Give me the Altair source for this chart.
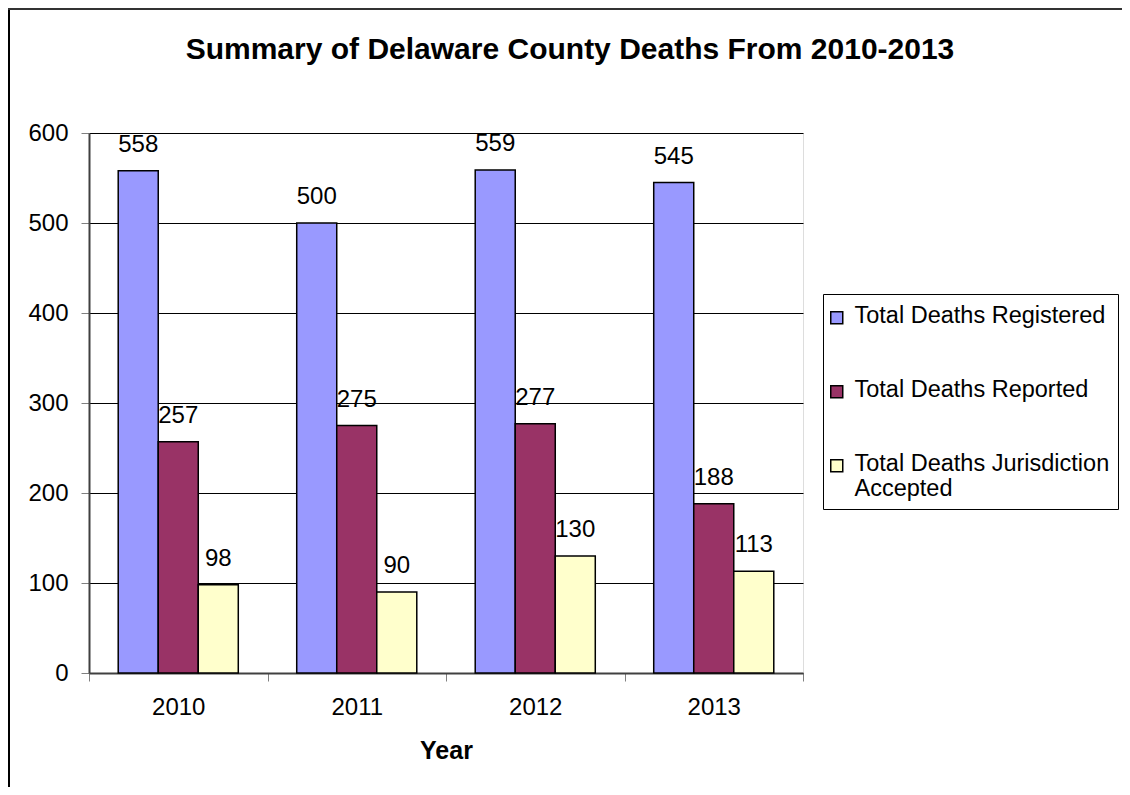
import altair as alt
import pandas as pd

years = ["2010", "2011", "2012", "2013"]
series = ["Total Deaths Registered", "Total Deaths Reported", "Total Deaths Jurisdiction Accepted"]
registered = [558, 500, 559, 545]
reported = [257, 275, 277, 188]
accepted = [98, 90, 130, 113]
colors = ["#9999FF", "#993366", "#FFFFCC"]
y_ticks = [0, 100, 200, 300, 400, 500, 600]

rows = []
for i, yr in enumerate(years):
    for s, vals in zip(series, [registered, reported, accepted]):
        rows.append({"Year": yr, "Series": s, "Deaths": vals[i]})
df = pd.DataFrame(rows)

FONT = "Liberation Sans"
W, H = 714, 540
PAD = {"left": 81, "top": 125, "right": 319, "bottom": 114}

x = alt.X(
    "Year:N", sort=years, title="Year",
    scale=alt.Scale(paddingInner=0, paddingOuter=0),
    axis=alt.Axis(
        labelAngle=0, tickBand="extent", grid=False, tickSize=8, tickColor="#808080",
        domainColor="#404040", domainWidth=2, labelFont=FONT, labelFontSize=24,
        labelColor="black", labelPadding=14, titleFont=FONT, titleFontSize=25,
        titleFontWeight="bold", titleColor="black", titlePadding=19,
    ),
)
xoff = alt.XOffset("Series:N", sort=series, scale=alt.Scale(paddingOuter=0.73, paddingInner=0))
y = alt.Y(
    "Deaths:Q", scale=alt.Scale(domain=[0, 600]),
    axis=alt.Axis(
        values=y_ticks, title=None, grid=True, gridColor="black", gridWidth=1,
        tickSize=8, tickColor="#808080", domainColor="#404040", domainWidth=2,
        labelFont=FONT, labelFontSize=24, labelColor="black", labelPadding=13,
    ),
)
color = alt.Color(
    "Series:N", sort=series, scale=alt.Scale(domain=series, range=colors),
    legend=alt.Legend(
        title=" ", titleFontSize=1, titlePadding=8,
        orient="none", legendX=734, legendY=161, direction="vertical",
        strokeColor="black", fillColor="white", padding=8, cornerRadius=0,
        labelFont=FONT, labelFontSize=23.5, labelColor="black", labelLimit=500,
        labelBaseline="alphabetic", labelOffset=6, symbolOffset=-6,
        labelExpr="datum.label == 'Total Deaths Jurisdiction Accepted' ? ['Total Deaths Jurisdiction', 'Accepted'] : datum.label",
        symbolType="M-1,-1.83H1V0.17H-1Z", symbolSize=144, symbolStrokeColor="black",
        symbolStrokeWidth=1.5, symbolOpacity=1, rowPadding=49,
    ),
)

bars = alt.Chart(df).mark_bar(stroke="black", strokeWidth=1.5, opacity=1).encode(
    x=x, xOffset=xoff, y=y, color=color
)
labels = alt.Chart(df).mark_text(
    baseline="alphabetic", dy=-19, fontSize=24, font=FONT, color="black"
).encode(x=x, xOffset=xoff, y=y, text="Deaths:Q")

frame_df = pd.DataFrame({"k": [0]})
frame_left = alt.Chart(frame_df).mark_rule(color="black", strokeWidth=2).encode(
    x=alt.value(-80), y=alt.value(-PAD["top"]), y2=alt.value(H + PAD["bottom"])
)
frame_top = alt.Chart(frame_df).mark_rule(color="#333333", strokeWidth=2).encode(
    x=alt.value(-PAD["left"]), x2=alt.value(W + PAD["right"]), y=alt.value(-PAD["top"] + 1)
)

chart = (
    alt.layer(bars, labels, frame_left, frame_top)
    .properties(
        width=W, height=H,
        padding=PAD,
        autosize=alt.AutoSizeParams(type="none"),
        title=alt.Title(
            "Summary of Delaware County Deaths From 2010-2013", font=FONT, fontSize=30,
            fontWeight="bold", anchor="middle", dx=124, offset=-82, baseline="alphabetic",
            color="black",
        ),
    )
    .configure_view(fill="#C0C0C0", stroke="#808080", strokeWidth=2)
    .configure(background="white")
)

chart.save("out.html", embed_options={"renderer": "svg", "actions": False})
